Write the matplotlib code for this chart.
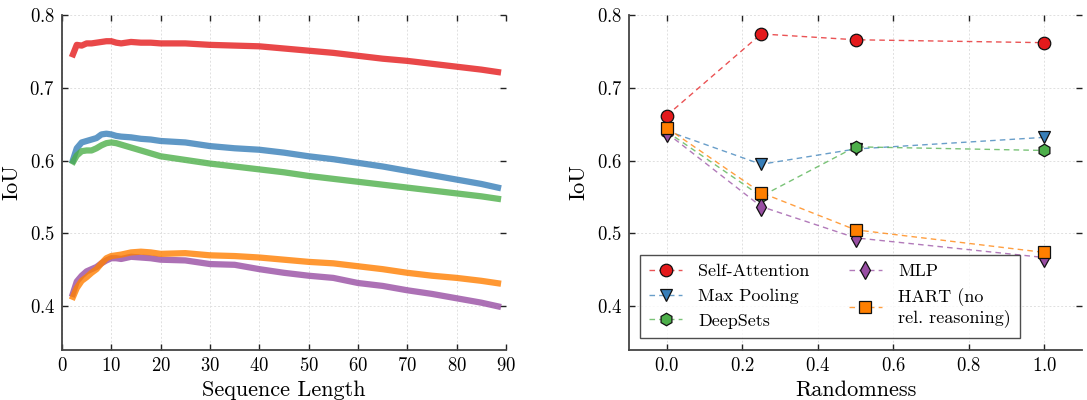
import matplotlib
matplotlib.use("Agg")
import matplotlib.pyplot as plt
from matplotlib.colors import to_rgba

plt.rcParams['font.family'] = ['cmr10', 'DejaVu Serif']
plt.rcParams['axes.formatter.use_mathtext'] = True
plt.rcParams['mathtext.fontset'] = 'cm'

# ---------------- Left panel data: IoU vs sequence length ----------------
seq_x = [2, 3, 4, 5, 6, 7, 8, 9, 10, 11, 12, 14, 16, 18, 20, 25, 30, 35, 40, 45, 50, 55, 60, 65, 70, 75, 80, 85, 89]
sa_seq = [0.742, 0.759, 0.758, 0.761, 0.761, 0.762, 0.763, 0.764, 0.764, 0.762, 0.761, 0.763, 0.762, 0.762, 0.761, 0.761, 0.759, 0.758, 0.757, 0.754, 0.751, 0.748, 0.744, 0.740, 0.737, 0.733, 0.729, 0.725, 0.721]
mp_seq = [0.596, 0.617, 0.625, 0.627, 0.629, 0.631, 0.636, 0.637, 0.636, 0.634, 0.633, 0.632, 0.630, 0.629, 0.627, 0.625, 0.620, 0.617, 0.615, 0.611, 0.606, 0.602, 0.597, 0.592, 0.586, 0.580, 0.574, 0.568, 0.562]
ds_seq = [0.595, 0.607, 0.613, 0.614, 0.614, 0.617, 0.621, 0.624, 0.625, 0.624, 0.622, 0.618, 0.614, 0.610, 0.606, 0.601, 0.596, 0.592, 0.588, 0.584, 0.579, 0.575, 0.571, 0.567, 0.563, 0.559, 0.555, 0.551, 0.547]
mlp_seq = [0.413, 0.434, 0.442, 0.448, 0.451, 0.454, 0.459, 0.463, 0.466, 0.466, 0.465, 0.468, 0.467, 0.466, 0.464, 0.463, 0.458, 0.457, 0.451, 0.446, 0.442, 0.439, 0.432, 0.428, 0.422, 0.417, 0.411, 0.405, 0.399]
hart_seq = [0.409, 0.425, 0.435, 0.440, 0.446, 0.451, 0.459, 0.466, 0.469, 0.470, 0.471, 0.474, 0.475, 0.474, 0.472, 0.473, 0.470, 0.469, 0.467, 0.464, 0.461, 0.459, 0.455, 0.451, 0.446, 0.442, 0.439, 0.435, 0.431]

# ---------------- Right panel data: IoU vs randomness ----------------
rand_x = [0.0, 0.25, 0.5, 1.0]
sa_rand = [0.662, 0.774, 0.766, 0.762]
mp_rand = [0.641, 0.595, 0.616, 0.632]
ds_rand = [0.640, 0.551, 0.619, 0.614]
mlp_rand = [0.638, 0.537, 0.494, 0.467]
hart_rand = [0.645, 0.556, 0.505, 0.474]

labels = ['Self-Attention', 'Max Pooling', 'DeepSets', 'MLP', 'HART (no\nrel. reasoning)']
colors = ['#e41a1c', '#377eb8', '#4daf4a', '#984ea3', '#ff7f00']
markers = ['o', 'v', 'h', 'd', 's']

seq_series = [sa_seq, mp_seq, ds_seq, mlp_seq, hart_seq]
rand_series = [sa_rand, mp_rand, ds_rand, mlp_rand, hart_rand]

fig = plt.figure(figsize=(10.87, 4.0), dpi=100)
ax1 = fig.add_axes([0.057, 0.125, 0.4085, 0.8375])
ax2 = fig.add_axes([0.5787, 0.125, 0.4167, 0.8375])


def style(ax):
    ax.grid(True, color='#e0e0e0', linestyle=(0, (2, 2)), linewidth=0.7)
    ax.set_axisbelow(True)
    for s in ['top', 'right']:
        ax.spines[s].set_visible(False)
    for s in ['left', 'bottom']:
        ax.spines[s].set_color('#444444')
        ax.spines[s].set_linewidth(1.3)
    ax.tick_params(direction='in', length=4, width=1, top=True, right=True,
                   labelsize=13.5, color='#222222', pad=5)
    ax.set_ylim(0.34, 0.8)
    ax.set_yticks([0.4, 0.5, 0.6, 0.7, 0.8])
    ax.set_ylabel('IoU', fontsize=16, labelpad=6)


for y, c in zip(seq_series, colors):
    ax1.plot(seq_x, y, color=c, linewidth=4.5, alpha=0.8, solid_capstyle='butt')
style(ax1)
ax1.set_xlim(0, 90)
ax1.set_xticks(range(0, 91, 10))
ax1.set_xlabel('Sequence Length', fontsize=16)

for y, c, m, lab in zip(rand_series, colors, markers, labels):
    ax2.plot(rand_x, y, color=to_rgba(c, 0.75), linestyle=(0, (4, 3)), linewidth=1.0,
             marker=m, markersize=9, markerfacecolor=c,
             markeredgecolor='#111111', markeredgewidth=0.9, label=lab)
style(ax2)
ax2.set_xlim(-0.1, 1.1)
ax2.set_xticks([0.0, 0.2, 0.4, 0.6, 0.8, 1.0])
ax2.set_xlabel('Randomness', fontsize=16)

leg = ax2.legend(loc='lower left', ncol=2, fontsize=13, numpoints=1,
                 frameon=True, fancybox=False, edgecolor='#222222',
                 bbox_to_anchor=(0.005, 0.01), handlelength=1.8,
                 handletextpad=0.9, columnspacing=2.2, borderpad=0.5,
                 labelspacing=0.5)
leg.get_frame().set_linewidth(1.0)

fig.savefig('out.png', dpi=100)
